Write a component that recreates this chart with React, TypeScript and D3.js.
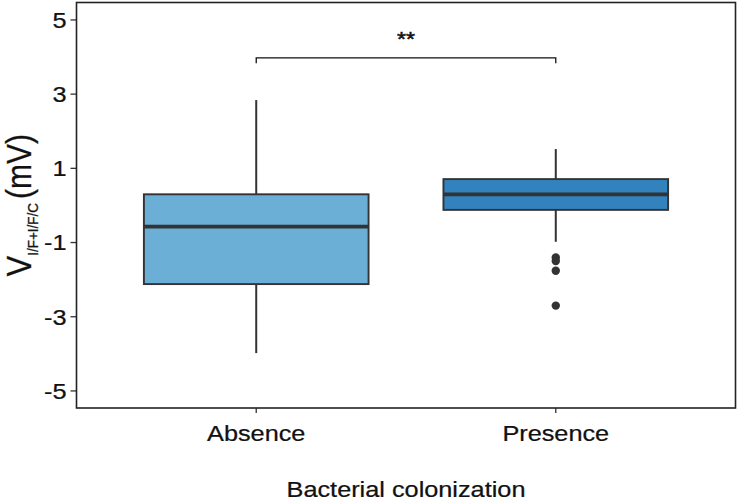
import React from 'react'
import * as d3 from 'd3'

// box statistics
const groups = ['Absence', 'Presence']
const whiskerLow = [-3.98, -0.98]
const q1 = [-2.12, -0.12]
const medians = [-0.57, 0.3]
const q3 = [0.3, 0.71]
const whiskerHigh = [2.84, 1.52]
const outlierGroup = ['Presence', 'Presence', 'Presence', 'Presence']
const outlierValues = [-1.4, -1.5, -1.76, -2.7]
const fills = ['#6BAED6', '#3182BD']

const yTicks = [-5, -3, -1, 1, 3, 5]
const bracketTop = 3.98
const bracketEnd = 3.83
const signif = '**'
const xTitle = 'Bacterial colonization'

const W = 739
const H = 501
const sx = 1.15 // source picture is a little wider than tall
const ink = '#333333'

function App() {
	const panel = { left: 76.5, right: 735.5, top: 2.5, bottom: 408 }

	const x = d3.scalePoint().domain(groups).range([panel.left, panel.right]).padding(0.6)
	const y = d3.scaleLinear().domain([-5.46, 5.47]).range([panel.bottom, panel.top])
	const boxW = x.step() * 0.75

	const font = "'Liberation Sans', Arial, sans-serif"

	return (
		<svg width={W} height={H} style={{ position: 'absolute', left: 0, top: 0 }} fontFamily={font}>
			<rect width={W} height={H} fill="#fff" />

			{/* y ticks */}
			{yTicks.map(t => (
				<g key={t}>
					<line x1={panel.left - 6} x2={panel.left} y1={y(t)} y2={y(t)} stroke={ink} strokeWidth={1.3} />
					<text
						transform={`translate(${panel.left - 10},${y(t)}) scale(${sx},1)`}
						dy="0.36em"
						textAnchor="end"
						fontSize={22}
						fill="#111"
						stroke="#111"
						strokeWidth={0.25}
					>
						{t}
					</text>
				</g>
			))}

			{/* x ticks */}
			{groups.map(g => (
				<g key={g}>
					<line x1={x(g)} x2={x(g)} y1={panel.bottom} y2={panel.bottom + 5} stroke={ink} strokeWidth={1.3} />
					<text
						transform={`translate(${x(g)},${panel.bottom + 33}) scale(${sx},1)`}
						textAnchor="middle"
						fontSize={22}
						fill="#111"
						stroke="#111"
						strokeWidth={0.25}
					>
						{g}
					</text>
				</g>
			))}

			{/* boxes */}
			{groups.map((g, i) => {
				const cx = x(g) as number
				return (
					<g key={g}>
						<line x1={cx} x2={cx} y1={y(whiskerHigh[i])} y2={y(q3[i])} stroke={ink} strokeWidth={2} />
						<line x1={cx} x2={cx} y1={y(q1[i])} y2={y(whiskerLow[i])} stroke={ink} strokeWidth={2} />
						<rect
							x={cx - boxW / 2}
							y={y(q3[i])}
							width={boxW}
							height={y(q1[i]) - y(q3[i])}
							fill={fills[i]}
							stroke={ink}
							strokeWidth={1.9}
						/>
						<line
							x1={cx - boxW / 2}
							x2={cx + boxW / 2}
							y1={y(medians[i])}
							y2={y(medians[i])}
							stroke={ink}
							strokeWidth={3.8}
						/>
					</g>
				)
			})}

			{/* outliers */}
			{outlierValues.map((v, i) => (
				<circle key={i} cx={x(outlierGroup[i])} cy={y(v)} r={4.2} fill={ink} />
			))}

			{/* significance bracket */}
			<path
				d={`M${x(groups[0])},${y(bracketEnd)}V${y(bracketTop)}H${x(groups[1])}V${y(bracketEnd)}`}
				fill="none"
				stroke="#111"
				strokeWidth={1.3}
			/>
			<text
				transform={`translate(${((x(groups[0]) as number) + (x(groups[1]) as number)) / 2},${y(bracketTop) - 12}) scale(${sx},1)`}
				textAnchor="middle"
				fontSize={20}
				fill="#111"
				stroke="#111"
				strokeWidth={0.5}
			>
				{signif}
			</text>

			{/* panel border */}
			<rect
				x={panel.left}
				y={panel.top}
				width={panel.right - panel.left}
				height={panel.bottom - panel.top}
				fill="none"
				stroke="#222"
				strokeWidth={1.6}
			/>

			{/* axis titles */}
			<text
				transform={`translate(${(panel.left + panel.right) / 2},${H - 4}) scale(${sx},1)`}
				textAnchor="middle"
				fontSize={22}
				fill="#111"
				stroke="#111"
				strokeWidth={0.25}
			>
				{xTitle}
			</text>
			<text
				transform={`translate(31,${(panel.top + panel.bottom) / 2}) scale(${sx},1) rotate(-90)`}
				textAnchor="middle"
				fontSize={30}
				fill="#111"
				stroke="#111"
				strokeWidth={0.25}
			>
				<tspan fontSize={31}>V</tspan>
				<tspan fontSize={13.5} dy={6}>I/F+I/F/C</tspan>
				<tspan dy={-6} dx={4}>(mV)</tspan>
			</text>
		</svg>
	)
}

export default App
